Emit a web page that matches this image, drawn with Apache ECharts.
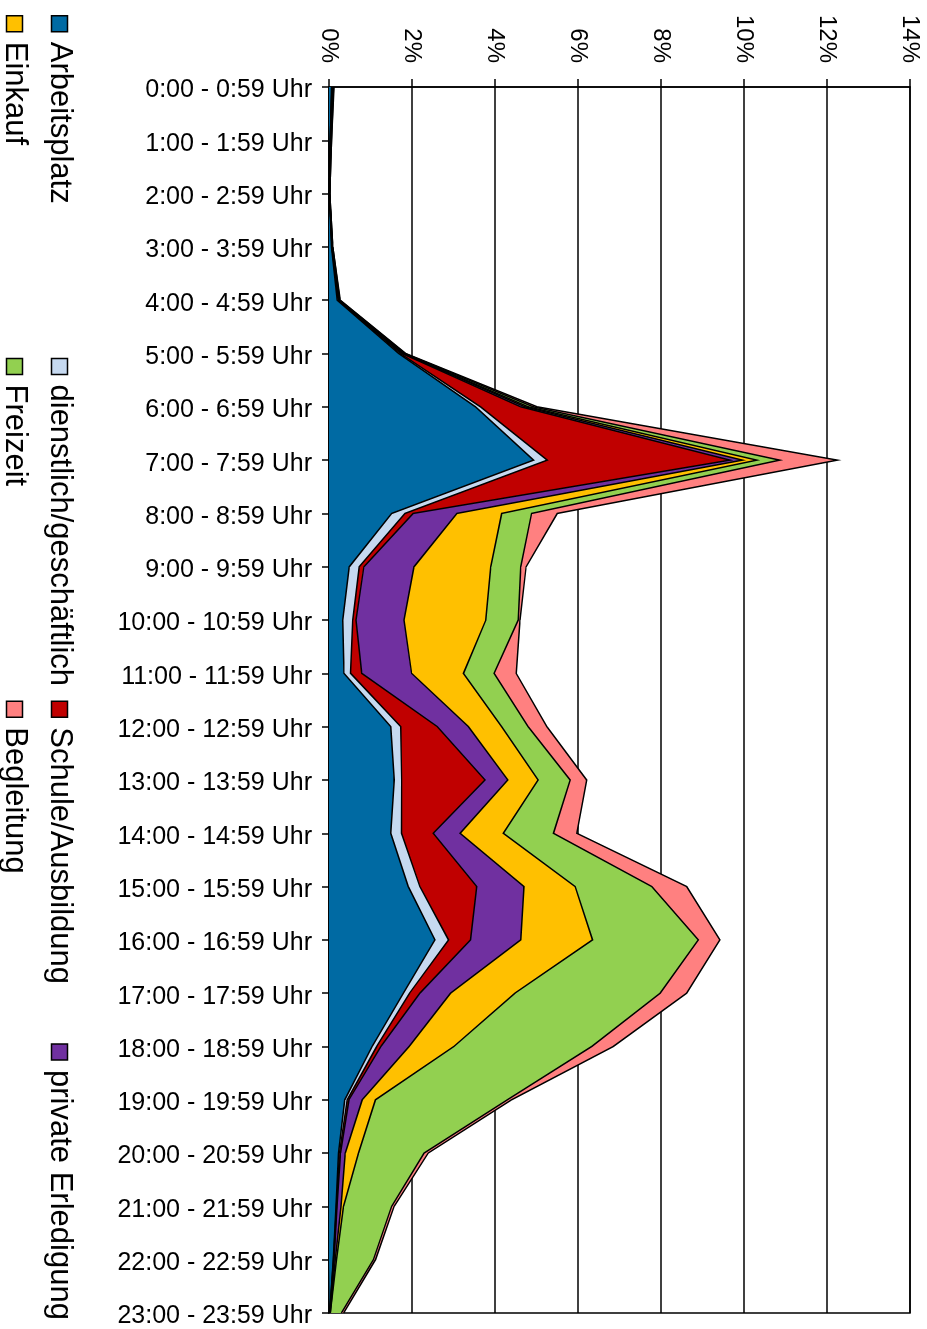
<!DOCTYPE html>
<html>
<head>
<meta charset="utf-8">
<script src="https://cdn.jsdelivr.net/npm/echarts@6/dist/echarts.min.js"></script>
<style>
html, body { margin: 0; padding: 0; width: 927px; height: 1329px; overflow: hidden; background: #fff; }
#chart { position: absolute; left: 0; top: 0; width: 1329px; height: 927px;
  transform-origin: 0 0; transform: translate(927px, 0) rotate(90deg); }
</style>
</head>
<body>
<div id="chart"></div>
<script>
const categories = [
  '0:00 - 0:59 Uhr', '1:00 - 1:59 Uhr', '2:00 - 2:59 Uhr', '3:00 - 3:59 Uhr',
  '4:00 - 4:59 Uhr', '5:00 - 5:59 Uhr', '6:00 - 6:59 Uhr', '7:00 - 7:59 Uhr',
  '8:00 - 8:59 Uhr', '9:00 - 9:59 Uhr', '10:00 - 10:59 Uhr', '11:00 - 11:59 Uhr',
  '12:00 - 12:59 Uhr', '13:00 - 13:59 Uhr', '14:00 - 14:59 Uhr', '15:00 - 15:59 Uhr',
  '16:00 - 16:59 Uhr', '17:00 - 17:59 Uhr', '18:00 - 18:59 Uhr', '19:00 - 19:59 Uhr',
  '20:00 - 20:59 Uhr', '21:00 - 21:59 Uhr', '22:00 - 22:59 Uhr', '23:00 - 23:59 Uhr'
];
const seriesNames = ['Arbeitsplatz', 'dienstlich/geschäftlich', 'Schule/Ausbildung',
  'private Erledigung', 'Einkauf', 'Freizeit', 'Begleitung'];
const seriesColors = ['#006AA3', '#C6D9F0', '#C00000', '#7030A0', '#FFC000', '#92D050', '#FF8080'];

const arbeitsplatz = [0.06, 0.03, 0.01, 0.06, 0.20, 1.68, 3.53, 4.93, 1.51, 0.49, 0.33, 0.36,
  1.49, 1.57, 1.49, 1.91, 2.55, 1.79, 1.04, 0.38, 0.23, 0.17, 0.10, 0.02];
const dienstlich = [0.01, 0.00, 0.00, 0.01, 0.02, 0.04, 0.12, 0.33, 0.32, 0.24, 0.24, 0.16,
  0.24, 0.18, 0.26, 0.28, 0.33, 0.15, 0.11, 0.06, 0.02, 0.01, 0.01, 0.00];
const schule = [0.00, 0.00, 0.00, 0.00, 0.01, 0.04, 0.97, 4.40, 0.20, 0.11, 0.08, 0.27,
  0.88, 2.01, 0.76, 1.37, 0.53, 0.25, 0.10, 0.04, 0.03, 0.01, 0.01, 0.00];
const privat = [0.01, 0.01, 0.00, 0.01, 0.01, 0.03, 0.10, 0.30, 1.05, 1.21, 1.16, 1.20,
  0.75, 0.55, 0.65, 1.14, 1.21, 0.74, 0.68, 0.32, 0.11, 0.10, 0.03, 0.01];
const einkauf = [0.00, 0.00, 0.00, 0.00, 0.00, 0.01, 0.08, 0.35, 1.08, 1.85, 1.97, 1.25,
  0.80, 0.73, 1.04, 1.23, 1.73, 1.55, 1.08, 0.32, 0.32, 0.06, 0.03, 0.00];
const freizeit = [0.03, 0.02, 0.01, 0.01, 0.02, 0.03, 0.12, 0.55, 0.72, 0.72, 0.78, 0.74,
  0.64, 0.77, 1.21, 1.85, 2.55, 3.50, 3.32, 3.18, 1.58, 1.16, 0.89, 0.27];
const begleitung = [0.01, 0.00, 0.00, 0.00, 0.01, 0.02, 0.10, 1.39, 0.62, 0.13, 0.04, 0.53,
  0.45, 0.40, 0.56, 0.84, 0.52, 0.64, 0.52, 0.10, 0.10, 0.06, 0.05, 0.05];
const valueTicks = [0, 2, 4, 6, 8, 10, 12, 14];

const seriesData = [arbeitsplatz, dienstlich, schule, privat, einkauf, freizeit, begleitung];

const FONT = "'Liberation Sans', Arial, sans-serif";
const chart = echarts.init(document.getElementById('chart'), null, { width: 1329, height: 927, renderer: 'canvas' });

function legendItem(name, w) {
  const idx = seriesNames.indexOf(name);
  const item = { name: name, itemStyle: { color: seriesColors[idx], borderColor: '#000', borderWidth: 1.5 } };
  if (w) item.textStyle = { width: w };
  return item;
}
const legendBase = {
  orient: 'horizontal', icon: 'rect', itemWidth: 16, itemHeight: 16, itemGap: 0,
  selectedMode: false,
  textStyle: { fontFamily: FONT, fontSize: 31, lineHeight: 31, color: '#000', padding: [0, 0, 0, 5] }
};

chart.setOption({
  animation: false,
  backgroundColor: '#fff',
  color: seriesColors,
  grid: { left: 87, right: 14, top: 17, bottom: 329, show: true, borderColor: '#000', borderWidth: 1.5, backgroundColor: 'transparent' },
  legend: [
    Object.assign({}, legendBase, { left: 10, top: 847,
      data: [legendItem(seriesNames[0], 316), legendItem(seriesNames[1], 316), legendItem(seriesNames[2], 316), legendItem(seriesNames[3])] }),
    Object.assign({}, legendBase, { left: 10, top: 892,
      data: [legendItem(seriesNames[4], 316), legendItem(seriesNames[5], 316), legendItem(seriesNames[6])] })
  ],
  xAxis: {
    type: 'category', data: categories, boundaryGap: false,
    axisLine: { show: true, lineStyle: { color: '#000', width: 1.5 } },
    axisTick: { show: true, length: 7, lineStyle: { color: '#000', width: 1.5 } },
    axisLabel: { interval: 0, rotate: 90, margin: 17, fontFamily: FONT, fontSize: 25, color: '#000',
      verticalAlign: 'top', lineHeight: 7 },
    splitLine: { show: false }
  },
  yAxis: {
    type: 'value', min: valueTicks[0], max: valueTicks[valueTicks.length - 1], interval: 2,
    axisLine: { show: true, lineStyle: { color: '#000', width: 1.5 } },
    axisTick: { show: true, length: 8, lineStyle: { color: '#000', width: 1.5 } },
    axisLabel: { margin: 24, fontFamily: FONT, fontSize: 24, color: '#000', formatter: '{value}%' },
    splitLine: { show: true, lineStyle: { color: '#000', width: 1.5 } }
  },
  series: seriesNames.map((name, i) => ({
    name: name, type: 'line', stack: 'total', data: seriesData[i],
    symbol: 'none', showSymbol: false, smooth: false,
    lineStyle: { color: '#000', width: 1.5, join: 'miter', miterLimit: 10 },
    itemStyle: { color: seriesColors[i] },
    areaStyle: { color: seriesColors[i], opacity: 1 },
    emphasis: { disabled: true }
  }))
});
</script>
</body>
</html>
